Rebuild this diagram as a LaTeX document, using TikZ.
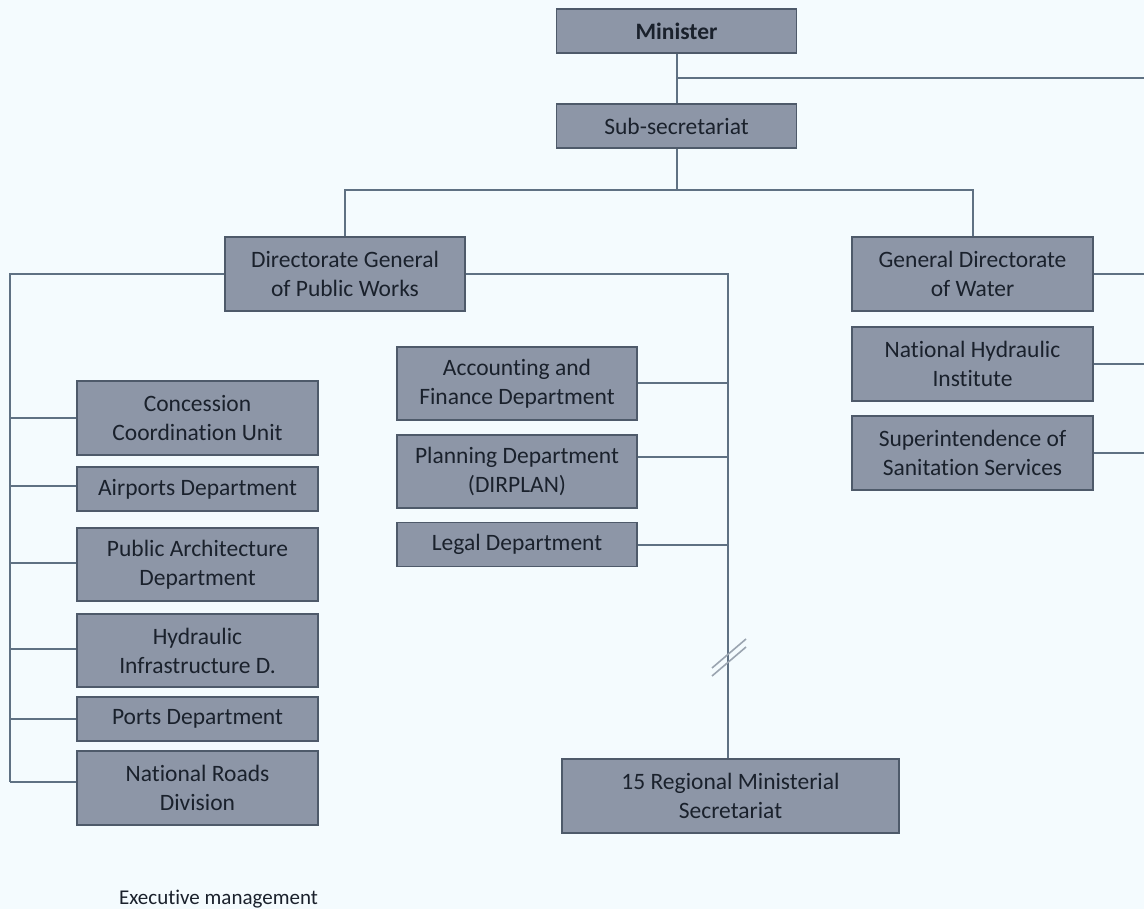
\documentclass[tikz,border=0pt]{standalone}
\usepackage{fontspec}
\setmainfont[Ligatures={NoCommon}]{Carlito}
\definecolor{bg}{HTML}{F4FBFE}
\definecolor{boxfill}{HTML}{8D96A7}
\definecolor{boxedge}{HTML}{4E5A6A}
\definecolor{linec}{HTML}{5F7183}
\definecolor{txt}{HTML}{1A212C}
\definecolor{breakc}{HTML}{9AA4B0}
\begin{document}
\begin{tikzpicture}[x=1pt,y=-1pt,
  orgbox/.style={draw=boxedge, fill=boxfill, line width=1.8pt, text=txt, align=center,
    font=\fontsize{23.5}{29}\selectfont, inner sep=0pt, minimum width=240pt},
  tall/.style={minimum height=74pt},
  short/.style={minimum height=44pt},
  conn/.style={draw=linec, line width=2pt},
  brk/.style={draw=breakc, line width=1.6pt}]
\fill[bg] (0,0) rectangle (1144,909);
\useasboundingbox (0,0) rectangle (1144,909);

% top
\node[orgbox, short, font=\fontsize{23.5}{29}\selectfont\bfseries] (min) at (676.5,31) {Minister};
\node[orgbox, short] (sub) at (676.5,126) {Sub-secretariat};

% directorates
\node[orgbox, tall] (dgpw) at (345,274) {Directorate General\\of Public Works};
\node[orgbox, tall, minimum width=241pt] (gdw) at (972.5,274) {General Directorate\\of Water};
\node[orgbox, tall, minimum width=241pt] (nhi) at (972.5,364) {National Hydraulic\\Institute};
\node[orgbox, tall, minimum width=241pt] (sss) at (972.5,453) {Superintendence of\\Sanitation Services};

% left column
\node[orgbox, tall, minimum width=241pt] (ccu) at (197.5,418) {Concession\\Coordination Unit};
\node[orgbox, short, minimum width=241pt] (apd) at (197.5,489) {Airports Department};
\node[orgbox, tall, minimum width=241pt, minimum height=73pt] (pad) at (197.5,564.5) {Public Architecture\\Department};
\node[orgbox, tall, minimum width=241pt, minimum height=73pt] (hid) at (197.5,650.5) {Hydraulic\\Infrastructure D.};
\node[orgbox, short, minimum width=241pt] (ptd) at (197.5,719) {Ports Department};
\node[orgbox, tall, minimum width=241pt] (nrd) at (197.5,788) {National Roads\\Division};

% middle column
\node[orgbox, tall, minimum height=73pt] (afd) at (517,383.5) {Accounting and\\Finance Department};
\node[orgbox, tall, minimum height=73pt] (pld) at (517,471.5) {Planning Department\\(DIRPLAN)};
\node[orgbox, short] (lgd) at (517,544.5) {Legal Department};
\node[orgbox, tall, minimum width=337pt] (rms) at (730.5,796) {15 Regional Ministerial\\Secretariat};

% label
\node[anchor=base west, inner sep=0pt, text=txt, font=\fontsize{21}{25}\selectfont] (exec) at (119,904) {Executive management};

% junction coordinates
\coordinate (mj) at (676.5,78);
\coordinate (mjEnd) at (1144,78);
\coordinate (sj) at (676.5,190);
\coordinate (lspTop) at (10,274);
\coordinate (lspBot) at (10,782);
\coordinate (msp) at (728,274);
\coordinate (gdwEnd) at (1144,274);
\coordinate (nhiEnd) at (1144,364);
\coordinate (sssEnd) at (1144,453);

% connectors
\draw[conn] (min.south) -- (sub.north);
\draw[conn] (mj) -- (mjEnd);
\draw[conn] (sub.south) -- (sj);
\draw[conn] (dgpw.north) |- (sj) -| (gdw.north);

\draw[conn] (gdw.east) -- (gdwEnd);
\draw[conn] (nhi.east) -- (nhiEnd);
\draw[conn] (sss.east) -- (sssEnd);

\draw[conn] (dgpw.west) -- (lspTop) -- (lspBot);
\draw[conn] (ccu.west) -- (ccu.west -| lspTop);
\draw[conn] ([yshift=3pt]apd.west) -- ([yshift=3pt]apd.west -| lspTop);
\draw[conn] ([yshift=2pt]pad.west) -- ([yshift=2pt]pad.west -| lspTop);
\draw[conn] ([yshift=2pt]hid.west) -- ([yshift=2pt]hid.west -| lspTop);
\draw[conn] (ptd.west) -- (ptd.west -| lspTop);
\draw[conn] ([yshift=6pt]nrd.west) -- (lspBot);

\draw[conn] (dgpw.east) -- (msp) -- (msp |- rms.north);
\draw[conn] (afd.east) -- (afd.east -| msp);
\draw[conn] ([yshift=14.5pt]pld.east) -- ([yshift=14.5pt]pld.east -| msp);
\draw[conn] (lgd.east) -- (lgd.east -| msp);

% break marks
\coordinate (b1a) at (712,668); \coordinate (b1b) at (746,639);
\coordinate (b2a) at (712,676); \coordinate (b2b) at (746,647);
\draw[brk] (b1a) -- (b1b);
\draw[brk] (b2a) -- (b2b);
\end{tikzpicture}
\end{document}
